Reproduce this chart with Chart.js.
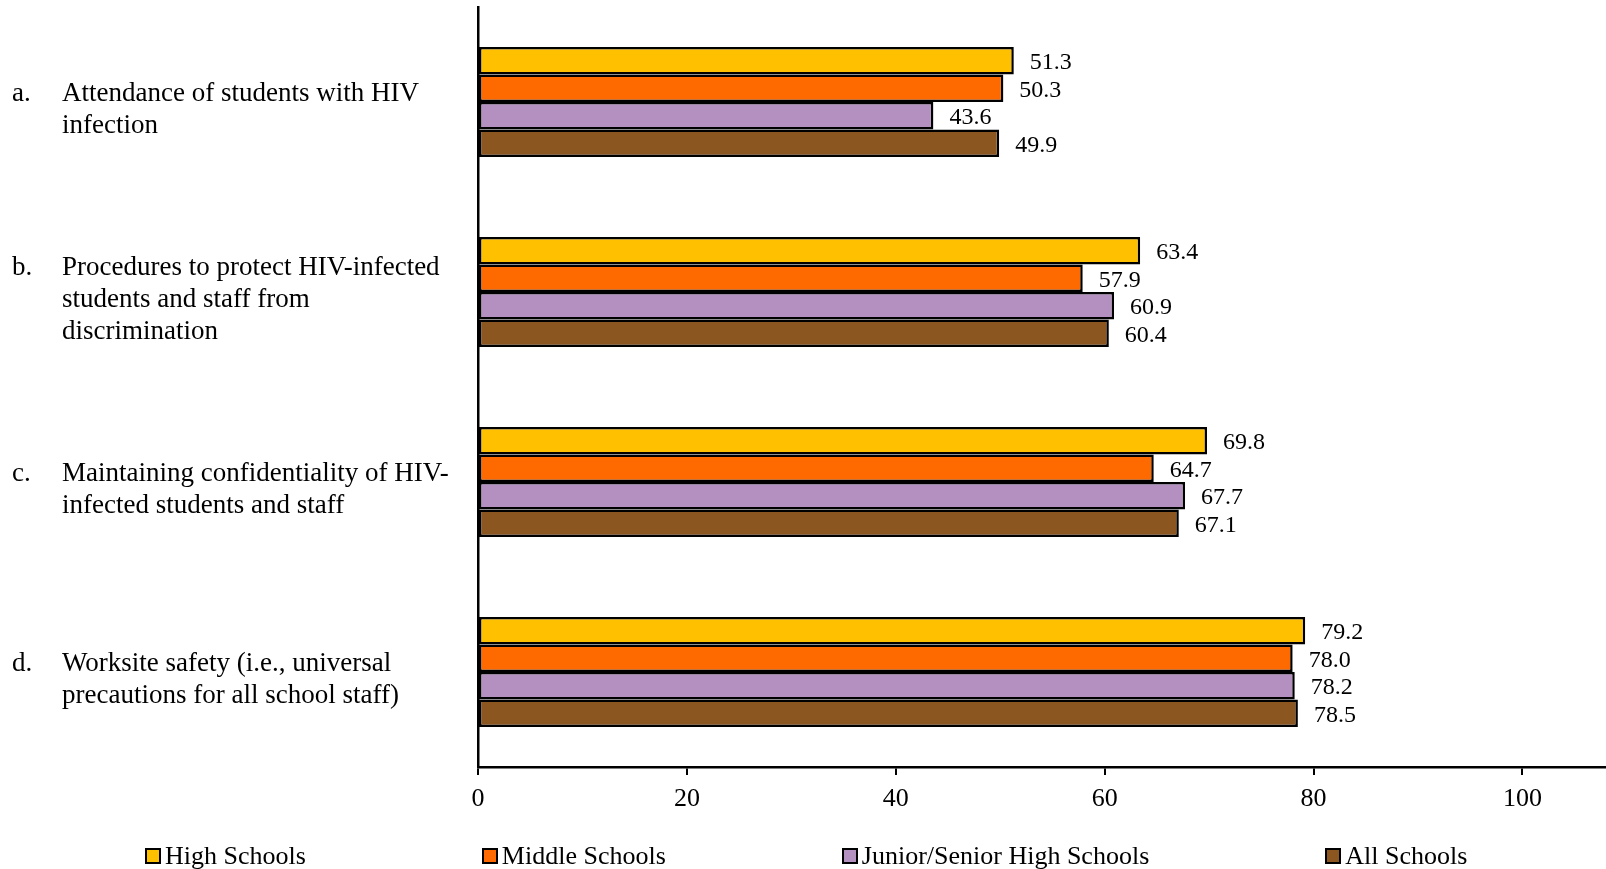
<!DOCTYPE html>
<html>
<head>
<meta charset="utf-8">
<script src="https://cdn.jsdelivr.net/npm/chart.js@4"></script>
<style>
  html, body { margin: 0; padding: 0; background: #fff; }
  #wrap { position: relative; width: 1606px; height: 869px; }
  #legend {
    position: absolute; left: 145px; top: 840px; display: flex;
    font: 26px "Liberation Serif", "Times New Roman", serif; line-height: 32px; color: #000;
  }
  .lg-item { display: flex; align-items: center; margin-right: 176px; white-space: nowrap; }
  .lg-box { width: 12px; height: 12px; border: 2px solid #000; margin-right: 4px; }
</style>
</head>
<body>
<div id="wrap">
  <canvas id="chart" width="1606" height="869"></canvas>
  <div id="legend"></div>
</div>
<script>
  const letters = ["a.", "b.", "c.", "d."];
  const categories = [
    ["Attendance of students with HIV", "infection"],
    ["Procedures to protect HIV-infected", "students and staff from", "discrimination"],
    ["Maintaining confidentiality of HIV-", "infected students and staff"],
    ["Worksite safety (i.e., universal", "precautions for all school staff)"]
  ];
  const seriesNames = ["High Schools", "Middle Schools", "Junior/Senior High Schools", "All Schools"];
  const highSchools = [51.3, 63.4, 69.8, 79.2];
  const middleSchools = [50.3, 57.9, 64.7, 78.0];
  const juniorSenior = [43.6, 60.9, 67.7, 78.2];
  const allSchools = [49.9, 60.4, 67.1, 78.5];
  const xTicks = [0, 20, 40, 60, 80, 100];

  const colors = ["#FFC000", "#FF6A00", "#B490C0", "#8C5620"];
  const FONT = '"Liberation Serif", "Times New Roman", serif';

  // value text just past the end of each bar
  const valueLabels = {
    id: "valueLabels",
    afterDatasetsDraw(chart) {
      const ctx = chart.ctx;
      ctx.save();
      ctx.font = "24px " + FONT;
      ctx.fillStyle = "#000";
      ctx.textBaseline = "middle";
      ctx.textAlign = "left";
      chart.data.datasets.forEach((ds, i) => {
        chart.getDatasetMeta(i).data.forEach((bar, j) => {
          ctx.fillText(ds.data[j].toFixed(1), bar.x + 16, bar.y + 2);
        });
      });
      ctx.restore();
    }
  };

  // lettered, hanging-indent category labels on the left
  const categoryLabels = {
    id: "categoryLabels",
    afterDraw(chart) {
      const ctx = chart.ctx;
      const y = chart.scales.y;
      ctx.save();
      ctx.font = "27px " + FONT;
      ctx.fillStyle = "#000";
      ctx.textBaseline = "middle";
      ctx.textAlign = "left";
      categories.forEach((lines, i) => {
        const cy = y.getPixelForValue(i) + 8;
        const top = cy - (lines.length - 1) * 32 / 2;
        ctx.fillText(letters[i], 12, top);
        lines.forEach((l, k) => ctx.fillText(l, 62, top + k * 32));
      });
      ctx.restore();
    }
  };

  const values = [highSchools, middleSchools, juniorSenior, allSchools];

  new Chart(document.getElementById("chart"), {
    type: "bar",
    data: {
      labels: categories,
      datasets: seriesNames.map((name, i) => ({
        label: name,
        data: values[i],
        backgroundColor: colors[i],
        borderColor: "#000",
        borderWidth: 2.5,
        borderSkipped: false,
        categoryPercentage: 0.58,
        barPercentage: 1.0
      }))
    },
    options: {
      indexAxis: "y",
      responsive: false,
      animation: false,
      layout: { padding: { top: 7, right: 0, bottom: 0, left: 0 } },
      scales: {
        x: {
          min: 0,
          max: 108,
          afterBuildTicks: (axis) => { axis.ticks = xTicks.map((v) => ({ value: v })); },
          afterFit: (scale) => { scale.height = 102; },
          grid: { display: true, drawOnChartArea: false, drawTicks: true, tickLength: 8, color: "#000", lineWidth: 2 },
          border: { display: true, color: "#000", width: 2.5 },
          ticks: { color: "#000", font: { family: FONT, size: 26 }, padding: 9, maxRotation: 0 }
        },
        y: {
          afterFit: (scale) => { scale.width = 478; },
          grid: { display: false },
          border: { display: true, color: "#000", width: 2.5 },
          ticks: { display: false }
        }
      },
      plugins: {
        legend: { display: false },
        tooltip: { enabled: false }
      }
    },
    plugins: [valueLabels, categoryLabels]
  });

  document.getElementById("legend").innerHTML = seriesNames
    .map((n, i) => `<div class="lg-item"><span class="lg-box" style="background:${colors[i]}"></span>${n}</div>`)
    .join("");
</script>
</body>
</html>
